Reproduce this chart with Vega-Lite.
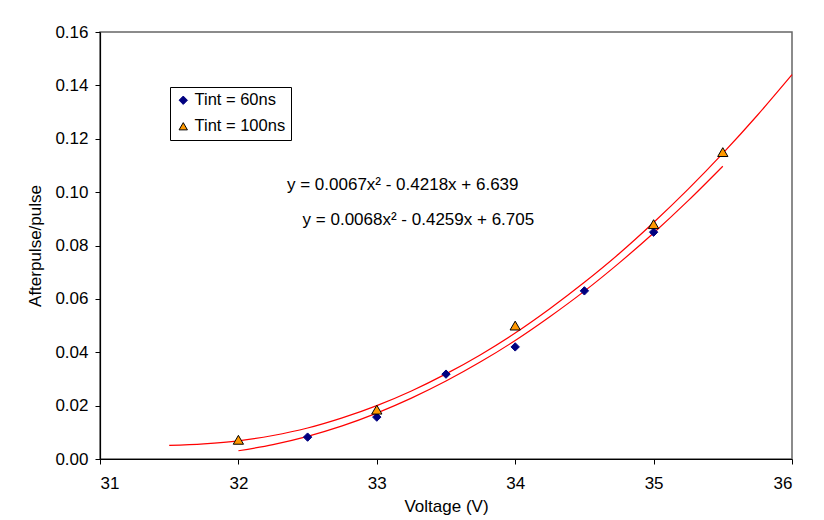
{
  "$schema": "https://vega.github.io/schema/vega-lite/v6.json",
  "width": 692,
  "height": 427,
  "autosize": {"type": "none"},
  "padding": {"left": 100, "top": 32, "right": 32, "bottom": 61},
  "background": "white",
  "config": {
    "font": "Liberation Sans",
    "view": {"stroke": "#666666", "strokeWidth": 1.5},
    "axis": {
      "grid": false,
      "domainColor": "black",
      "domainWidth": 1.2,
      "tickColor": "black",
      "tickSize": 5,
      "labelColor": "black",
      "titleColor": "black",
      "labelFont": "Liberation Sans",
      "titleFont": "Liberation Sans",
      "labelFontSize": 17,
      "titleFontSize": 17,
      "titleFontWeight": "normal"
    },
    "legend": {
      "orient": "none",
      "legendX": 70,
      "legendY": 55,
      "strokeColor": "black",
      "strokeWidth": 1,
      "padding": 5,
      "labelFont": "Liberation Sans",
      "labelFontSize": 16.5,
      "labelColor": "black",
      "labelOffset": 3,
      "rowPadding": 9,
      "symbolSize": 70,
      "symbolStrokeWidth": 1,
      "fillColor": "white"
    }
  },
  "datasets": {
    "points": [
      {"voltage": 32.5, "ratio": 0.0082, "series": "Tint = 60ns"},
      {"voltage": 33.0, "ratio": 0.0157, "series": "Tint = 60ns"},
      {"voltage": 33.5, "ratio": 0.0318, "series": "Tint = 60ns"},
      {"voltage": 34.0, "ratio": 0.0420, "series": "Tint = 60ns"},
      {"voltage": 34.5, "ratio": 0.0630, "series": "Tint = 60ns"},
      {"voltage": 35.0, "ratio": 0.0850, "series": "Tint = 60ns"},
      {"voltage": 32.0, "ratio": 0.0072, "series": "Tint = 100ns"},
      {"voltage": 33.0, "ratio": 0.0185, "series": "Tint = 100ns"},
      {"voltage": 34.0, "ratio": 0.0500, "series": "Tint = 100ns"},
      {"voltage": 35.0, "ratio": 0.0880, "series": "Tint = 100ns"},
      {"voltage": 35.5, "ratio": 0.1150, "series": "Tint = 100ns"}
    ],
    "curves": [
      {"voltage": 32.0, "ratio": 0.0031, "fit": "60ns"},
      {"voltage": 32.25, "ratio": 0.0054, "fit": "60ns"},
      {"voltage": 32.5, "ratio": 0.0085, "fit": "60ns"},
      {"voltage": 32.75, "ratio": 0.0124, "fit": "60ns"},
      {"voltage": 33.0, "ratio": 0.0172, "fit": "60ns"},
      {"voltage": 33.25, "ratio": 0.0228, "fit": "60ns"},
      {"voltage": 33.5, "ratio": 0.0292, "fit": "60ns"},
      {"voltage": 33.75, "ratio": 0.0364, "fit": "60ns"},
      {"voltage": 34.0, "ratio": 0.0444, "fit": "60ns"},
      {"voltage": 34.25, "ratio": 0.0533, "fit": "60ns"},
      {"voltage": 34.5, "ratio": 0.0629, "fit": "60ns"},
      {"voltage": 34.75, "ratio": 0.0734, "fit": "60ns"},
      {"voltage": 35.0, "ratio": 0.0847, "fit": "60ns"},
      {"voltage": 35.25, "ratio": 0.0968, "fit": "60ns"},
      {"voltage": 35.5, "ratio": 0.1097, "fit": "60ns"},
      {"voltage": 31.5, "ratio": 0.0051, "fit": "100ns"},
      {"voltage": 31.75, "ratio": 0.0057, "fit": "100ns"},
      {"voltage": 32.0, "ratio": 0.0068, "fit": "100ns"},
      {"voltage": 32.25, "ratio": 0.0088, "fit": "100ns"},
      {"voltage": 32.5, "ratio": 0.0116, "fit": "100ns"},
      {"voltage": 32.75, "ratio": 0.0154, "fit": "100ns"},
      {"voltage": 33.0, "ratio": 0.0200, "fit": "100ns"},
      {"voltage": 33.25, "ratio": 0.0255, "fit": "100ns"},
      {"voltage": 33.5, "ratio": 0.0319, "fit": "100ns"},
      {"voltage": 33.75, "ratio": 0.0391, "fit": "100ns"},
      {"voltage": 34.0, "ratio": 0.0472, "fit": "100ns"},
      {"voltage": 34.25, "ratio": 0.0563, "fit": "100ns"},
      {"voltage": 34.5, "ratio": 0.0662, "fit": "100ns"},
      {"voltage": 34.75, "ratio": 0.0769, "fit": "100ns"},
      {"voltage": 35.0, "ratio": 0.0886, "fit": "100ns"},
      {"voltage": 35.25, "ratio": 0.1011, "fit": "100ns"},
      {"voltage": 35.5, "ratio": 0.1145, "fit": "100ns"},
      {"voltage": 35.75, "ratio": 0.1288, "fit": "100ns"},
      {"voltage": 36.0, "ratio": 0.1440, "fit": "100ns"}
    ]
  },
  "layer": [
    {
      "data": {"name": "curves"},
      "mark": {"type": "line", "color": "#FF0000", "strokeWidth": 1.2, "interpolate": "monotone"},
      "encoding": {
        "x": {
          "field": "voltage", "type": "quantitative",
          "scale": {"domain": [31, 36], "nice": false, "zero": false},
          "axis": {"title": "Voltage (V)", "values": [31, 32, 33, 34, 35, 36], "format": "d", "labelPadding": 11, "titlePadding": 7}
        },
        "y": {
          "field": "ratio", "type": "quantitative",
          "scale": {"domain": [0, 0.16], "nice": false},
          "axis": {"title": "Afterpulse/pulse", "values": [0, 0.02, 0.04, 0.06, 0.08, 0.1, 0.12, 0.14, 0.16], "format": ".2f", "labelPadding": 7, "titlePadding": 10}
        },
        "detail": {"field": "fit"}
      }
    },
    {
      "data": {"name": "points"},
      "transform": [{"filter": "datum.series === 'Tint = 60ns'"}],
      "mark": {"type": "point", "filled": true, "strokeWidth": 1, "opacity": 1, "size": 70},
      "encoding": {
        "x": {"field": "voltage", "type": "quantitative"},
        "y": {"field": "ratio", "type": "quantitative"},
        "shape": {"field": "series", "type": "nominal", "scale": {"domain": ["Tint = 60ns", "Tint = 100ns"], "range": ["diamond", "triangle-up"]}, "title": null},
        "fill": {"field": "series", "type": "nominal", "scale": {"domain": ["Tint = 60ns", "Tint = 100ns"], "range": ["#000080", "#FF9900"]}, "title": null},
        "stroke": {"field": "series", "type": "nominal", "scale": {"domain": ["Tint = 60ns", "Tint = 100ns"], "range": ["#000080", "#000000"]}, "title": null}
      }
    },
    {
      "data": {"name": "points"},
      "transform": [{"filter": "datum.series === 'Tint = 100ns'"}],
      "mark": {"type": "point", "filled": true, "strokeWidth": 1, "opacity": 1, "size": 105},
      "encoding": {
        "x": {"field": "voltage", "type": "quantitative"},
        "y": {"field": "ratio", "type": "quantitative"},
        "shape": {"field": "series", "type": "nominal", "title": null},
        "fill": {"field": "series", "type": "nominal", "title": null},
        "stroke": {"field": "series", "type": "nominal", "title": null}
      }
    },
    {
      "data": {"values": [{}]},
      "mark": {"type": "text", "align": "left", "baseline": "middle", "fontSize": 17, "font": "Liberation Sans", "color": "black"},
      "encoding": {
        "x": {"datum": 32.351, "type": "quantitative"},
        "y": {"datum": 0.1027, "type": "quantitative"},
        "text": {"value": "y = 0.0067x² - 0.4218x + 6.639"}
      }
    },
    {
      "data": {"values": [{}]},
      "mark": {"type": "text", "align": "left", "baseline": "middle", "fontSize": 17, "font": "Liberation Sans", "color": "black"},
      "encoding": {
        "x": {"datum": 32.464, "type": "quantitative"},
        "y": {"datum": 0.0896, "type": "quantitative"},
        "text": {"value": "y = 0.0068x² - 0.4259x + 6.705"}
      }
    }
  ]
}
